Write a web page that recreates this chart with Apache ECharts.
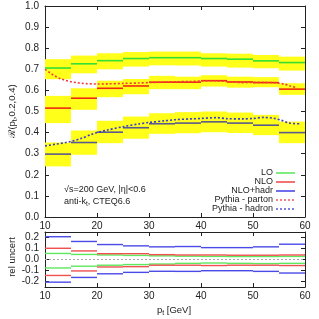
<!DOCTYPE html>
<html><head><meta charset="utf-8">
<script src="https://cdn.jsdelivr.net/npm/echarts@6/dist/echarts.min.js"></script>
<style>html,body{margin:0;padding:0;background:#fff}#c{width:319px;height:319px}</style>
</head><body><div id="c"></div>
<script>
// ---- data ----
const binEdges = [10, 15, 20, 25, 30, 35, 40, 45, 50, 55, 60];
const xTicks = [10, 20, 30, 40, 50, 60];
const LO      = [0.706, 0.726, 0.741, 0.751, 0.755, 0.755, 0.751, 0.748, 0.740, 0.732];
const LO_hi   = [0.748, 0.765, 0.776, 0.782, 0.784, 0.784, 0.776, 0.774, 0.768, 0.760];
const LO_lo   = [0.653, 0.681, 0.700, 0.713, 0.719, 0.718, 0.713, 0.708, 0.705, 0.694];
const NLO     = [0.516, 0.563, 0.610, 0.621, 0.639, 0.639, 0.646, 0.640, 0.637, 0.606];
const NLO_hi  = [0.574, 0.610, 0.646, 0.654, 0.669, 0.665, 0.672, 0.665, 0.663, 0.634];
const NLO_lo  = [0.445, 0.508, 0.568, 0.582, 0.606, 0.606, 0.618, 0.613, 0.615, 0.579];
const HAD     = [0.298, 0.353, 0.402, 0.423, 0.442, 0.445, 0.451, 0.445, 0.435, 0.400];
const HAD_hi  = [0.353, 0.410, 0.456, 0.476, 0.492, 0.497, 0.500, 0.495, 0.484, 0.452];
const HAD_lo  = [0.240, 0.295, 0.350, 0.371, 0.394, 0.397, 0.402, 0.398, 0.388, 0.350];
const partonX = [10, 11, 12, 13, 14, 15, 16, 17, 18, 20, 22, 25, 28, 30, 33, 35, 38, 40, 42, 44, 46, 48, 50, 52, 54, 56, 57, 58.5];
const partonY = [0.700, 0.683, 0.667, 0.655, 0.647, 0.641, 0.637, 0.634, 0.632, 0.630, 0.631, 0.633, 0.635, 0.637, 0.639, 0.641, 0.642, 0.645, 0.646, 0.644, 0.640, 0.637, 0.638, 0.638, 0.636, 0.630, 0.622, 0.612];
const hadronX = [10, 12, 14, 15, 17, 19, 20, 22, 25, 28, 30, 33, 35, 38, 40, 42, 43, 45, 48, 50, 52, 54, 55.5, 57, 59];
const hadronY = [0.337, 0.345, 0.353, 0.358, 0.373, 0.392, 0.400, 0.412, 0.428, 0.441, 0.448, 0.456, 0.461, 0.465, 0.467, 0.470, 0.471, 0.466, 0.465, 0.467, 0.472, 0.468, 0.458, 0.445, 0.442];
// relative uncertainties (lower panel)
const relLO_up  = [0.055, 0.046, 0.041, 0.037, 0.033, 0.030, 0.028, 0.027, 0.027, 0.028];
const relLO_dn  = [-0.077, -0.061, -0.052, -0.046, -0.041, -0.035, -0.032, -0.035, -0.037, -0.035];
const relNLO_up = [0.102, 0.078, 0.053, 0.053, 0.044, 0.041, 0.041, 0.039, 0.039, 0.041];
const relNLO_dn = [-0.145, -0.104, -0.068, -0.065, -0.052, -0.052, -0.055, -0.052, -0.052, -0.055];
const relHAD_up = [0.207, 0.164, 0.136, 0.124, 0.115, 0.118, 0.108, 0.108, 0.115, 0.139];
const relHAD_dn = [-0.206, -0.163, -0.130, -0.117, -0.107, -0.108, -0.102, -0.102, -0.108, -0.123];
const mainYTicks = [0, 0.1, 0.2, 0.3, 0.4, 0.5, 0.6, 0.7, 0.8, 0.9, 1.0];
const relYTicks = [-0.2, -0.1, 0, 0.1, 0.2];

// ---- build ----
const GREEN = '#33e033', RED = '#f02a10', YEL = '#ffff1a';
const HADCOL = '#5a5a8c';
const FONT = 'Liberation Sans, Arial, sans-serif';
function bins(lo, hi) { return lo.map((v, i) => [binEdges[i], binEdges[i + 1], v, hi[i]]); }
function segs(vals) { return vals.map((v, i) => [binEdges[i], binEdges[i + 1], v]); }

function bandSeries(lo, hi) {
  return { type: 'custom', xAxisIndex: 0, yAxisIndex: 0, z: 1, silent: true,
    renderItem: (p, api) => {
      const a = api.coord([api.value(0), api.value(3)]);
      const b = api.coord([api.value(1), api.value(2)]);
      return { type: 'rect', shape: { x: a[0], y: a[1], width: b[0] - a[0], height: b[1] - a[1] }, style: { fill: YEL } };
    }, data: bins(lo, hi) };
}
function segSeries(vals, color, xi, yi, w) {
  return { type: 'custom', xAxisIndex: xi, yAxisIndex: yi, z: 3, silent: true,
    renderItem: (p, api) => {
      const a = api.coord([api.value(0), api.value(2)]);
      const b = api.coord([api.value(1), api.value(2)]);
      return { type: 'line', shape: { x1: a[0], y1: a[1], x2: b[0], y2: b[1] }, style: { stroke: color, lineWidth: w } };
    }, data: segs(vals) };
}
function curve(xs, ys, color) {
  return { type: 'line', xAxisIndex: 0, yAxisIndex: 0, z: 4, silent: true, symbol: 'none', smooth: 0.3,
    lineStyle: { color: color, width: 1.6, type: [2, 2] }, data: xs.map((x, i) => [x, ys[i]]) };
}

const axisLineStyle = { show: true, onZero: false, lineStyle: { color: '#222', width: 1 } };
const tickIn = (vals) => ({ show: true, inside: true, length: 4, lineStyle: { color: '#222' }, customValues: vals });
const lab = { color: '#222', fontSize: 10, fontFamily: FONT };

const option = {
  animation: false,
  grid: [
    { left: 45, top: 6, width: 260, height: 211 },
    { left: 45, top: 232, width: 260, height: 55 }
  ],
  xAxis: [
    { gridIndex: 0, type: 'value', min: 10, max: 60, interval: 10, position: 'bottom', axisLine: axisLineStyle, axisTick: tickIn(xTicks), splitLine: { show: false }, axisLabel: Object.assign({ margin: 4, customValues: xTicks }, lab) },
    { gridIndex: 0, type: 'value', min: 10, max: 60, interval: 10, position: 'top', axisLine: axisLineStyle, axisTick: tickIn(xTicks), splitLine: { show: false }, axisLabel: { show: false } },
    { gridIndex: 1, type: 'value', min: 10, max: 60, interval: 10, position: 'bottom', axisLine: axisLineStyle, axisTick: tickIn(xTicks), splitLine: { show: false }, axisLabel: Object.assign({ margin: 4, customValues: xTicks }, lab) },
    { gridIndex: 1, type: 'value', min: 10, max: 60, interval: 10, position: 'top', axisLine: axisLineStyle, axisTick: tickIn(xTicks), splitLine: { show: false }, axisLabel: { show: false } }
  ],
  yAxis: [
    { gridIndex: 0, type: 'value', min: 0, max: 1, interval: 0.1, position: 'left', axisLine: axisLineStyle, axisTick: tickIn(mainYTicks), splitLine: { show: false }, axisLabel: Object.assign({ margin: 6, customValues: mainYTicks, formatter: v => v.toFixed(1) }, lab) },
    { gridIndex: 0, type: 'value', min: 0, max: 1, interval: 0.1, position: 'right', axisLine: axisLineStyle, axisTick: tickIn(mainYTicks), splitLine: { show: false }, axisLabel: { show: false } },
    { gridIndex: 1, type: 'value', min: -0.25, max: 0.25, position: 'left', axisLine: axisLineStyle, axisTick: tickIn(relYTicks), splitLine: { show: false }, axisLabel: Object.assign({ margin: 6, customValues: relYTicks, formatter: v => v.toFixed(1) }, lab) },
    { gridIndex: 1, type: 'value', min: -0.25, max: 0.25, position: 'right', axisLine: axisLineStyle, axisTick: tickIn(relYTicks), splitLine: { show: false }, axisLabel: { show: false } }
  ],
  series: [
    bandSeries(LO_lo, LO_hi),
    bandSeries(NLO_lo, NLO_hi),
    bandSeries(HAD_lo, HAD_hi),
    segSeries(LO, GREEN, 0, 0, 1.6),
    segSeries(NLO, RED, 0, 0, 1.6),
    segSeries(HAD, HADCOL, 0, 0, 1.6),
    curve(partonX, partonY, '#f03a3a'),
    curve(hadronX, hadronY, '#3a3ad0'),
    // lower panel
    { type: 'line', xAxisIndex: 2, yAxisIndex: 2, symbol: 'none', silent: true, z: 2, lineStyle: { color: '#aaa', width: 1, type: [2, 2] }, data: [[10, 0], [60, 0]] },
    segSeries(relLO_up, '#5ee85e', 2, 2, 1.4),
    segSeries(relLO_dn, '#5ee85e', 2, 2, 1.4),
    segSeries(relNLO_up, '#f05050', 2, 2, 1.4),
    segSeries(relNLO_dn, '#f05050', 2, 2, 1.4),
    segSeries(relHAD_up, '#4a4ae8', 2, 2, 1.4),
    segSeries(relHAD_dn, '#4a4ae8', 2, 2, 1.4)
  ],
  graphic: [
    { type: 'text', x: 12, y: 111, rotation: Math.PI / 2, style: { text: 'ℛ(p{s|t},0.2,0.4)', rich: { s: { fontSize: 7, verticalAlign: 'bottom', padding: [6, 0, 0, 0] } }, fontSize: 9.5, fontFamily: FONT, fill: '#222', align: 'center', verticalAlign: 'middle' } },
    { type: 'text', x: 12, y: 257, rotation: Math.PI / 2, style: { text: 'rel uncert', fontSize: 9.5, fontFamily: FONT, fill: '#222', align: 'center', verticalAlign: 'middle' } },
    { type: 'text', x: 174, y: 310, style: { text: 'p{s|t} [GeV]', rich: { s: { fontSize: 7, padding: [6, 0, 0, 0] } }, fontSize: 9.5, fontFamily: FONT, fill: '#222', align: 'center', verticalAlign: 'middle' } },
    { type: 'text', x: 64, y: 190, style: { text: '√s=200 GeV, |η|<0.6', fontSize: 9, fontFamily: FONT, fill: '#222', align: 'left', verticalAlign: 'middle' } },
    { type: 'text', x: 64, y: 202, style: { text: 'anti-k{s|t}, CTEQ6.6', rich: { s: { fontSize: 6.5, padding: [5, 0, 0, 0] } }, fontSize: 9, fontFamily: FONT, fill: '#222', align: 'left', verticalAlign: 'middle' } },
    // legend
    { type: 'text', x: 273, y: 173, style: { text: 'LO', fontSize: 9, fontFamily: FONT, fill: '#222', align: 'right', verticalAlign: 'middle' } },
    { type: 'text', x: 273, y: 182, style: { text: 'NLO', fontSize: 9, fontFamily: FONT, fill: '#222', align: 'right', verticalAlign: 'middle' } },
    { type: 'text', x: 273, y: 191, style: { text: 'NLO+hadr', fontSize: 9, fontFamily: FONT, fill: '#222', align: 'right', verticalAlign: 'middle' } },
    { type: 'text', x: 273, y: 200, style: { text: 'Pythia - parton', fontSize: 9, fontFamily: FONT, fill: '#222', align: 'right', verticalAlign: 'middle' } },
    { type: 'text', x: 273, y: 209, style: { text: 'Pythia - hadron', fontSize: 9, fontFamily: FONT, fill: '#222', align: 'right', verticalAlign: 'middle' } },
    { type: 'line', shape: { x1: 276, y1: 173, x2: 295, y2: 173 }, style: { stroke: '#5ee85e', lineWidth: 1.6 } },
    { type: 'line', shape: { x1: 276, y1: 182, x2: 295, y2: 182 }, style: { stroke: '#f05050', lineWidth: 1.6 } },
    { type: 'line', shape: { x1: 276, y1: 191, x2: 295, y2: 191 }, style: { stroke: '#4a4ae8', lineWidth: 1.6 } },
    { type: 'line', shape: { x1: 276, y1: 200, x2: 295, y2: 200 }, style: { stroke: '#f03a3a', lineWidth: 1.3, lineDash: [2, 2] } },
    { type: 'line', shape: { x1: 276, y1: 209, x2: 295, y2: 209 }, style: { stroke: '#3a3ad0', lineWidth: 1.3, lineDash: [2, 2] } }
  ]
};
echarts.init(document.getElementById('c')).setOption(option);
</script></body></html>
